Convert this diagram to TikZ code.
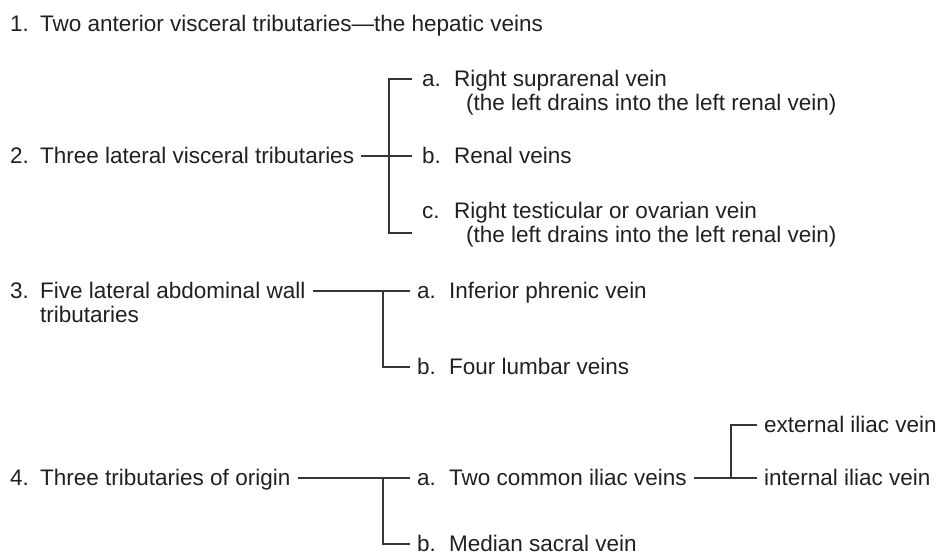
\documentclass[tikz,border=0pt]{standalone}
\usepackage{fontspec}
\setmainfont{Liberation Sans}
\definecolor{ink}{HTML}{231F20}
\begin{document}
\begin{tikzpicture}[x=1pt,y=-1pt,
  txt/.style={inner sep=0pt,anchor=west,text height=15.8pt,text depth=0pt,text=ink,
    font=\fontsize{22.5}{23.5}\selectfont},
  conn/.style={draw=ink!90,line width=1.2pt}]
\useasboundingbox (0,0) rectangle (941,559);
% 1
\node[txt] (n1) at (10,24) {1.};
\node[txt] (t1) at (40,24) {Two anterior visceral tributaries—the hepatic veins};
% 2
\node[txt] (n2) at (10,156) {2.};
\node[txt] (t2) at (40,156) {Three lateral visceral tributaries};
\node[txt] (a2) at (422,79) {a.};
\node[txt] (a2t) at (454,79) {Right suprarenal vein};
\node[txt] (a2n) at (466,102.5) {(the left drains into the left renal vein)};
\node[txt] (b2) at (422,156) {b.};
\node[txt] (b2t) at (454,156) {Renal veins};
\node[txt] (c2) at (422,211) {c.};
\node[txt] (c2t) at (454,211) {Right testicular or ovarian vein};
\node[txt] (c2n) at (466,234.5) {(the left drains into the left renal vein)};
% 3
\node[txt] (n3) at (10,291) {3.};
\node[txt] (t3) at (40,291) {Five lateral abdominal wall};
\node[txt] (t3b) at (40,314.5) {tributaries};
\node[txt] (a3) at (417,291) {a.};
\node[txt] (a3t) at (449,291) {Inferior phrenic vein};
\node[txt] (b3) at (417,367) {b.};
\node[txt] (b3t) at (449,367) {Four lumbar veins};
% 4
\node[txt] (n4) at (10,478) {4.};
\node[txt] (t4) at (40,478) {Three tributaries of origin};
\node[txt] (a4) at (417,478) {a.};
\node[txt] (a4t) at (449,478) {Two common iliac veins};
\node[txt] (b4) at (417,544) {b.};
\node[txt] (b4t) at (449,544) {Median sacral vein};
\node[txt] (ext) at (764,425) {external iliac vein};
\node[txt] (int) at (764,478) {internal iliac vein};
% junction coordinates
\coordinate (j2) at (389,156);
\coordinate (j2top) at (389,79);
\coordinate (j2bot) at (389,233);
\coordinate (e2bot) at (412,233);
\coordinate (j3) at (383,291);
\coordinate (j4) at (383,478);
\coordinate (j5) at (731,478);
% connectors
\draw[conn] ([xshift=7pt]t2.east) -- ([xshift=-10pt]b2.west);
\draw[conn] ([xshift=-10pt]a2.west) -- (j2top) -- (j2bot) -- (e2bot);
\draw[conn] ([xshift=7pt]t3.east) -- ([xshift=-7pt]a3.west);
\draw[conn] (j3) |- ([xshift=-7pt]b3.west);
\draw[conn] ([xshift=7pt]t4.east) -- ([xshift=-7pt]a4.west);
\draw[conn] (j4) |- ([xshift=-7pt]b4.west);
\draw[conn] ([xshift=7pt]a4t.east) -- ([xshift=-7pt]int.west);
\draw[conn] (j5) |- ([xshift=-7pt]ext.west);
\end{tikzpicture}
\end{document}
